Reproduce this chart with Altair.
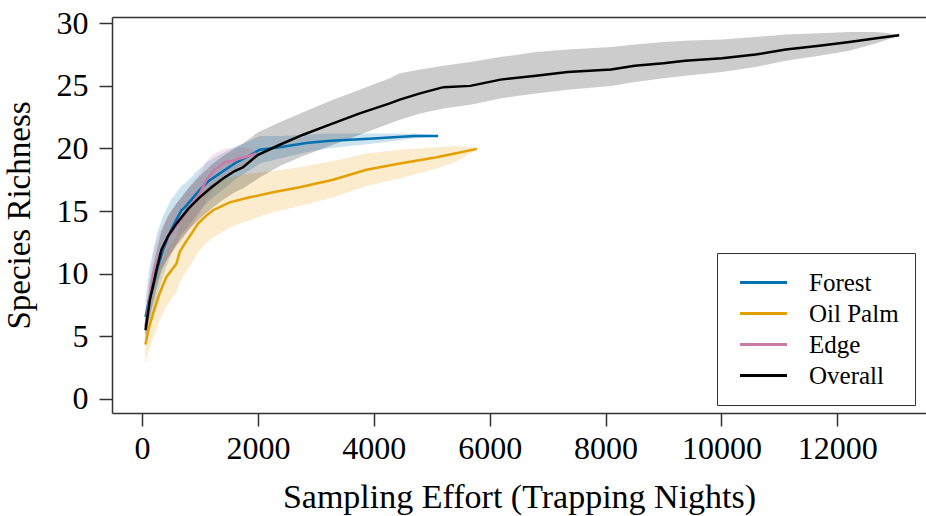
import altair as alt
import pandas as pd

FONT = "Liberation Serif"

series_order = ["Forest", "Oil Palm", "Edge", "Overall"]
line_colors = ["#0072B2", "#E69F00", "#CC79A7", "#000000"]
band_colors = ["#0072B2", "#E69F00", "#CC79A7", "#000000"]
band_opacity = [0.2, 0.2, 0.2, 0.18]

x_ticks = [0, 2000, 4000, 6000, 8000, 10000, 12000]
y_ticks = [0, 5, 10, 15, 20, 25, 30]

forest_x = [60, 120, 190, 270, 363, 500, 680, 737, 850, 996, 1150, 1341, 1500, 1630, 1802, 2032, 2377, 2838, 3200, 3586, 4000, 4334, 4700, 5110]
forest_y = [6.55, 7.9, 8.9, 10.5, 11.9, 13.5, 15.07, 15.3, 15.9, 16.7, 17.4, 18.0, 18.5, 18.9, 19.3, 19.9, 20.1, 20.44, 20.6, 20.7, 20.8, 20.9, 21.0, 21.0]
forest_lo = [5.15, 6.1, 6.9, 8.4, 9.8, 11.5, 13.2, 13.4, 14.1, 15.0, 15.8, 16.5, 17.1, 17.6, 18.1, 18.8, 19.2, 19.7, 20.0, 20.2, 20.4, 20.6, 20.8, 20.95]
forest_hi = [8.0, 10.2, 11.8, 13.4, 14.6, 15.9, 17.0, 17.2, 17.7, 18.4, 19.0, 19.5, 19.9, 20.2, 20.5, 21.0, 21.0, 21.1, 21.2, 21.2, 21.2, 21.2, 21.2, 21.05]

oil_x = [59, 120, 190, 300, 421, 594, 651, 750, 853, 967, 1100, 1226, 1514, 1860, 2262, 2723, 3298, 3874, 4449, 5086, 5400, 5782]
oil_y = [4.34, 5.7, 6.8, 8.4, 9.74, 10.8, 11.74, 12.5, 13.2, 14.0, 14.6, 15.07, 15.7, 16.1, 16.5, 16.9, 17.5, 18.3, 18.8, 19.3, 19.6, 19.97]
oil_lo = [2.8, 3.9, 4.8, 6.2, 7.4, 8.5, 9.3, 10.1, 10.8, 11.7, 12.4, 12.9, 13.7, 14.3, 14.9, 15.4, 16.1, 17.0, 17.6, 18.4, 18.9, 19.9]
oil_hi = [5.6, 7.4, 8.8, 10.5, 11.9, 13.0, 14.0, 14.8, 15.5, 16.2, 16.8, 17.2, 17.7, 18.0, 18.2, 18.5, 19.0, 19.6, 19.9, 20.1, 20.2, 20.05]

edge_x = [60, 120, 219, 320, 421, 560, 708, 850, 996, 1060, 1111, 1250, 1428, 1550, 1687, 1850, 1975]
edge_y = [5.8, 7.8, 10.5, 11.7, 12.7, 13.6, 14.5, 15.5, 16.4, 17.0, 17.5, 18.3, 18.9, 19.0, 19.2, 19.4, 19.6]
edge_lo = [4.8, 6.4, 8.8, 10.0, 11.0, 11.9, 12.8, 13.8, 14.8, 15.4, 15.9, 16.9, 17.7, 18.0, 18.4, 18.9, 19.4]
edge_hi = [6.8, 9.3, 12.2, 13.5, 14.5, 15.4, 16.3, 17.2, 18.0, 18.5, 19.0, 19.6, 20.0, 20.0, 20.1, 20.0, 19.8]

overall_x = [60, 135, 250, 335, 450, 594, 800, 996, 1200, 1399, 1600, 1744, 2003, 2377, 2780, 3240, 3757, 4276, 4449, 4800, 5202, 5666, 6187, 6800, 7345, 8098, 8503, 9000, 9372, 10009, 10588, 11110, 11689, 12210, 12674, 13068]
overall_y = [5.5, 7.9, 10.3, 11.9, 13.0, 14.0, 15.2, 16.1, 16.9, 17.6, 18.2, 18.5, 19.5, 20.3, 21.1, 21.9, 22.8, 23.6, 23.9, 24.4, 24.9, 25.0, 25.5, 25.8, 26.1, 26.3, 26.6, 26.8, 27.0, 27.2, 27.5, 27.9, 28.2, 28.5, 28.8, 29.05]
overall_lo = [4.6, 6.6, 8.8, 10.3, 11.3, 12.3, 13.5, 14.4, 15.2, 15.9, 16.5, 16.8, 17.6, 18.6, 19.4, 20.2, 21.1, 22.0, 22.3, 22.8, 23.2, 23.5, 24.0, 24.4, 24.7, 25.0, 25.3, 25.6, 25.8, 26.1, 26.5, 27.0, 27.4, 27.8, 28.4, 29.0]
overall_hi = [6.4, 9.3, 11.8, 13.4, 14.6, 15.6, 16.8, 17.8, 18.7, 19.4, 20.0, 20.4, 21.3, 22.1, 22.9, 23.8, 24.7, 25.6, 26.0, 26.3, 26.6, 26.9, 27.3, 27.7, 27.9, 28.1, 28.3, 28.5, 28.6, 28.7, 28.9, 29.1, 29.2, 29.3, 29.3, 29.1]

rows = []
for name, xs, ys, los, his in [
    ("Forest", forest_x, forest_y, forest_lo, forest_hi),
    ("Oil Palm", oil_x, oil_y, oil_lo, oil_hi),
    ("Edge", edge_x, edge_y, edge_lo, edge_hi),
    ("Overall", overall_x, overall_y, overall_lo, overall_hi),
]:
    for x, y, lo, hi in zip(xs, ys, los, his):
        rows.append({"series": name, "band": name, "x": x, "y": y, "lo": lo, "hi": hi})
df = pd.DataFrame(rows)

xscale = alt.Scale(domain=[-518, 13531], nice=False, zero=False)
yscale = alt.Scale(domain=[-1.12, 30.5], nice=False, zero=False)

bands = alt.Chart(df).mark_area(clip=True).encode(
    x=alt.X("x:Q", scale=xscale,
            axis=alt.Axis(orient="top", labels=False, ticks=False, title=None,
                          grid=False, domain=True, domainColor="#333333", domainWidth=1.5)),
    y=alt.Y("lo:Q", scale=yscale, axis=None),
    y2="hi:Q",
    fill=alt.Fill("band:N", scale=alt.Scale(domain=series_order, range=band_colors), legend=None),
    opacity=alt.Opacity("band:N", scale=alt.Scale(domain=series_order, range=band_opacity), legend=None),
)

lines = alt.Chart(df).mark_line(clip=True, strokeWidth=2.5).encode(
    x=alt.X("x:Q", scale=xscale,
            axis=alt.Axis(values=x_ticks, title="Sampling Effort (Trapping Nights)",
                          format="d", grid=False, labelFont=FONT, labelFontSize=32,
                          labelColor="black", labelPadding=7, tickSize=13, tickWidth=1.5,
                          tickColor="#333333", domainColor="#333333", domainWidth=1.5,
                          titleFont=FONT, titleFontSize=34, titleFontWeight="normal",
                          titleColor="black", titlePadding=16, labelFlush=False)),
    y=alt.Y("y:Q", scale=yscale,
            axis=alt.Axis(values=y_ticks, title="Species Richness", grid=False,
                          labelFont=FONT, labelFontSize=32, labelColor="black",
                          labelPadding=11, tickSize=13, tickWidth=1.5, tickColor="#333333",
                          domainColor="#333333", domainWidth=1.5, titleFont=FONT,
                          titleFontSize=33, titleFontWeight="normal", titleColor="black",
                          titlePadding=20, labelFlush=False)),
    color=alt.Color("series:N", scale=alt.Scale(domain=series_order, range=line_colors),
                    legend=alt.Legend(title=None, orient="none", legendX=605, legendY=236,
                                      padding=16, strokeColor="#333333", fillColor="white",
                                      labelFont=FONT, labelFontSize=25, labelColor="black",
                                      symbolType="M-2,0H2", symbolSize=552,
                                      symbolStrokeWidth=3, symbolOffset=17,
                                      labelOffset=32, rowPadding=4)),
)

chart = alt.layer(bands, lines).resolve_axis(x="independent", y="independent").resolve_legend(
    color="independent", fill="independent", opacity="independent"
).properties(
    width=814, height=396,
    padding={"left": 112, "top": 17, "right": 0, "bottom": 103},
    autosize=alt.AutoSizeParams(type="none"),
    background="white",
).configure_view(stroke=None)

chart.save("out.html", embed_options={"renderer": "svg", "actions": False})
